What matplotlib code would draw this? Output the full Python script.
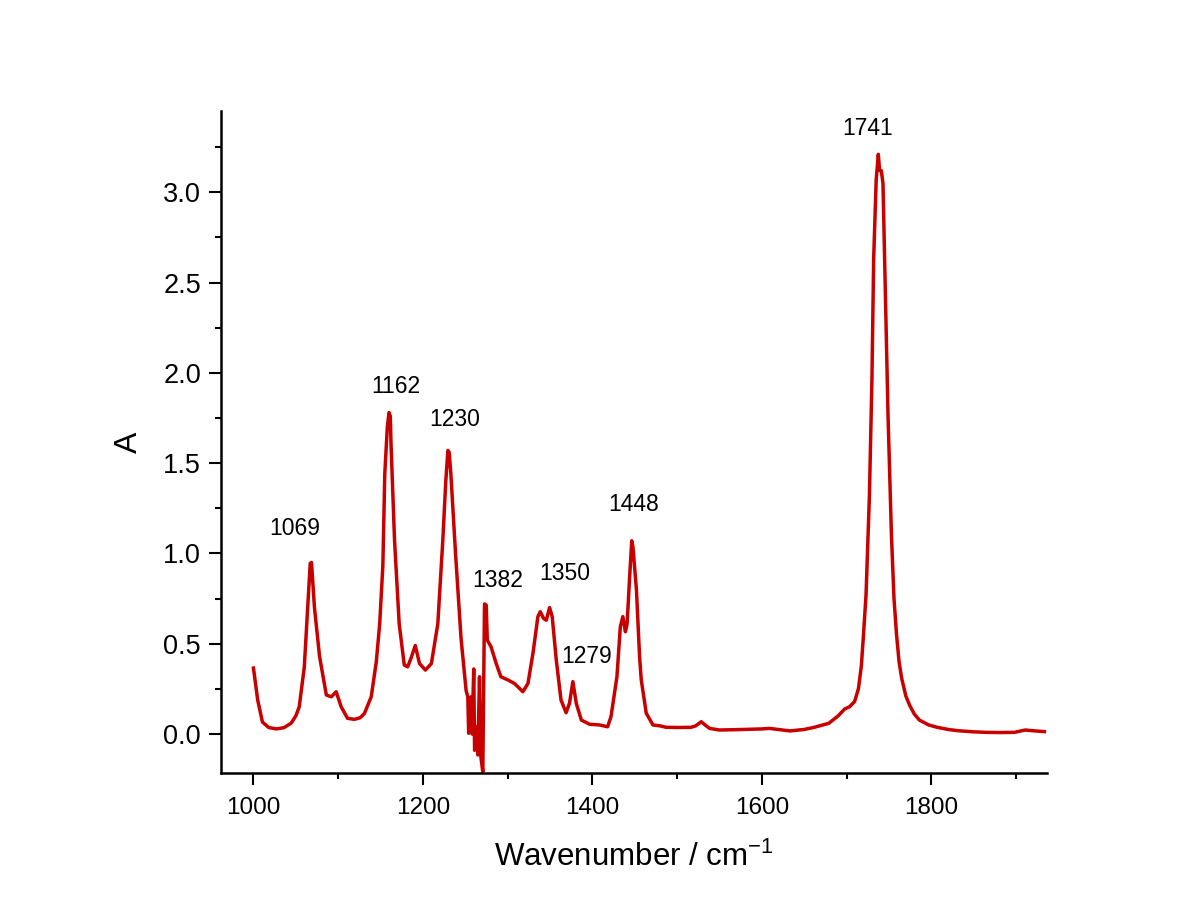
import matplotlib
matplotlib.use('Agg')
import matplotlib.pyplot as plt
from matplotlib.ticker import MultipleLocator

plt.rcParams['font.family'] = ['Liberation Sans', 'DejaVu Sans']

# espectro
wavenumber = [1000, 1005, 1010.6, 1018, 1027, 1036, 1044.5, 1050, 1054, 1060, 1064, 1067, 1068.5,
              1072, 1078, 1086, 1092, 1097.6, 1103.5, 1111, 1119, 1126, 1131, 1139, 1145, 1149,
              1152.7, 1155, 1158, 1160, 1161.5, 1162.4, 1166.5, 1172, 1178, 1182, 1186, 1191,
              1196, 1203, 1210, 1217.6, 1223.5, 1227, 1229.5, 1231, 1233, 1238.5, 1245, 1251,
              1253, 1254, 1257, 1258, 1260, 1261, 1263.7, 1264.8, 1266.8, 1268.4, 1270.7, 1272.7,
              1274.7, 1276, 1280.4, 1286.5, 1292, 1300, 1308, 1318, 1324, 1330, 1335.7, 1338.5,
              1342.4, 1345.6, 1349.5, 1352.6, 1357.4, 1363, 1369, 1373, 1377, 1381, 1387, 1396.7,
              1408.5, 1418, 1422, 1429, 1433, 1436, 1439, 1441, 1444, 1446.5, 1448, 1452, 1455.7,
              1457.7, 1463.6, 1471.5, 1480, 1487, 1500, 1516.5, 1522, 1528.5, 1533, 1538.4, 1550,
              1570, 1600, 1609, 1633, 1650, 1662, 1679, 1690, 1697.7, 1703.6, 1709.5, 1714,
              1717.5, 1720, 1723, 1727, 1730, 1732, 1735, 1737.5, 1739, 1741, 1743, 1746, 1749,
              1753, 1756, 1759, 1762, 1765, 1770, 1774.5, 1780, 1786, 1797, 1807, 1820, 1832,
              1850, 1865, 1880, 1898, 1911, 1920, 1933.5]
absorbancia = [0.365, 0.188, 0.066, 0.036, 0.028, 0.035, 0.06, 0.10, 0.15, 0.37, 0.70, 0.945, 0.95,
               0.70, 0.43, 0.216, 0.206, 0.234, 0.151, 0.087, 0.081, 0.09, 0.114, 0.206, 0.40, 0.61,
               0.93, 1.44, 1.70, 1.78, 1.76, 1.60, 1.074, 0.61, 0.382, 0.372, 0.42, 0.49,
               0.39, 0.354, 0.39, 0.61, 1.074, 1.40, 1.57, 1.56, 1.44, 1.0, 0.53, 0.24,
               0.206, 0.004, 0.206, 0.0, 0.36, -0.09, 0.04, -0.116, 0.317, -0.126, -0.21, 0.72,
               0.714, 0.52, 0.483, 0.39, 0.317, 0.30, 0.28, 0.234, 0.28, 0.45, 0.65, 0.677,
               0.64, 0.63, 0.70, 0.65, 0.41, 0.188, 0.118, 0.17, 0.29, 0.17, 0.077, 0.054,
               0.05, 0.04, 0.096, 0.317, 0.594, 0.65, 0.566, 0.61, 0.87, 1.07, 1.03, 0.80, 0.43,
               0.30, 0.115, 0.05, 0.045, 0.037, 0.036, 0.037, 0.045, 0.068, 0.05, 0.031, 0.022,
               0.024, 0.028, 0.031, 0.017, 0.025, 0.037, 0.059, 0.10, 0.138, 0.151, 0.18, 0.25,
               0.378, 0.55, 0.77, 1.32, 1.975, 2.63, 3.07, 3.21, 3.12, 3.12, 3.05, 2.41, 1.756,
               1.10, 0.75, 0.55, 0.40, 0.31, 0.21, 0.159, 0.11, 0.077, 0.05, 0.037, 0.025, 0.018,
               0.012, 0.009, 0.008, 0.009, 0.022, 0.018, 0.013]

# etiquetas de los picos
etiquetas = ['1069', '1162', '1230', '1382', '1350', '1279', '1448', '1741']
etiqueta_x = [1049, 1168.5, 1237, 1288.5, 1367, 1393, 1449, 1725]
etiqueta_y = [1.14, 1.926, 1.74, 0.852, 0.889, 0.428, 1.273, 3.354]

fig = plt.figure(figsize=(11.96, 9.21), dpi=100)
ax = fig.add_axes([0.185, 0.1607, 0.69, 0.7188])

ax.plot(wavenumber, absorbancia, color='#C80000', lw=2.5, solid_joinstyle='round')

for t, x, y in zip(etiquetas, etiqueta_x, etiqueta_y):
    ax.text(x, y, t, ha='center', va='center', fontsize=16.5)

ax.set_xlim(962, 1936)
ax.set_ylim(-0.216, 3.45)
ax.xaxis.set_major_locator(MultipleLocator(200))
ax.xaxis.set_minor_locator(MultipleLocator(100))
ax.yaxis.set_major_locator(MultipleLocator(0.5))
ax.yaxis.set_minor_locator(MultipleLocator(0.25))
ax.yaxis.set_major_formatter(plt.FormatStrFormatter('%.1f'))

for s in ['top', 'right']:
    ax.spines[s].set_visible(False)
for s in ['left', 'bottom']:
    ax.spines[s].set_linewidth(1.8)

ax.tick_params(which='major', length=8.5, width=1.5)
ax.tick_params(which='minor', length=4.5, width=1.5)
ax.tick_params(axis='x', labelsize=17.5, pad=9)
ax.tick_params(axis='y', labelsize=19.5, pad=6)

ax.set_xlabel('Wavenumber / cm$^{\\mathregular{-1}}$', fontsize=22.5, labelpad=16)
ax.set_ylabel('A', fontsize=23, labelpad=14)

fig.savefig('out.png', dpi=100)
